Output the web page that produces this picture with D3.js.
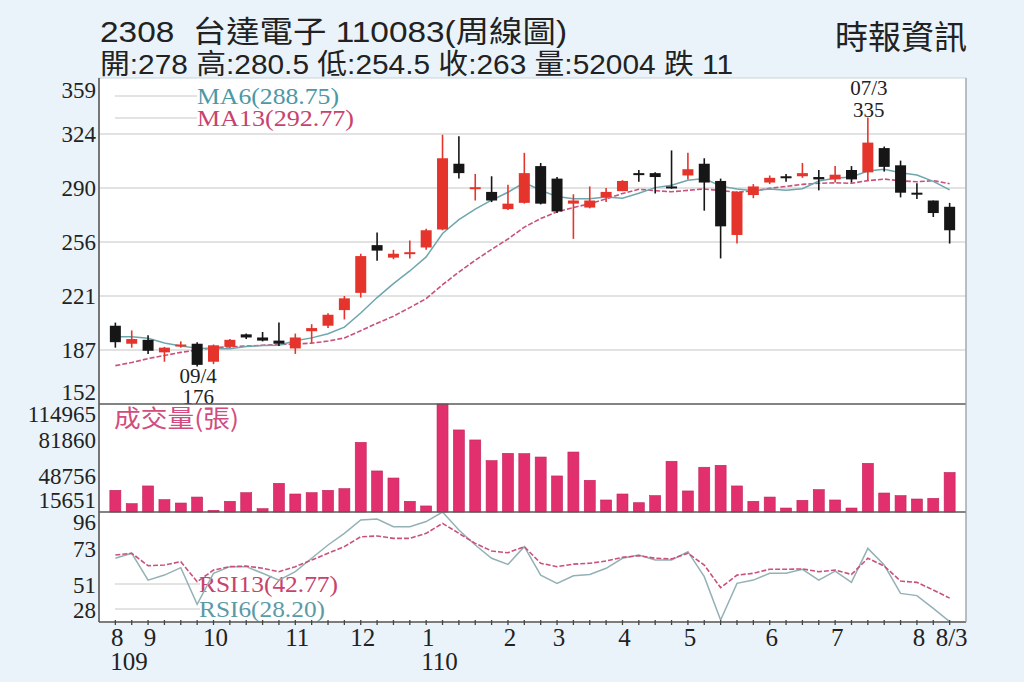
<!DOCTYPE html>
<html><head><meta charset="utf-8">
<script src="https://cdn.jsdelivr.net/npm/d3@7"></script>
<style>
html,body{margin:0;padding:0;background:#e9f3f9;}
svg{display:block;}
</style></head><body>
<svg id="c" width="1024" height="682"></svg>
<script>
// ---- data (weekly, 2020/08 .. 2021/08/03) ----
const openP  = [202,190.5,193,185,189,190.5,179,188.5,196.5,194.5, 192.5,187.5,198.5,202,212,223,253.5,245.5,248,252, 263.5,305.5,289.5,287.5,276.5,280.5,304,296,280,277.5, 284,288,299.5,299.5,291,298,305.5,294.5,260,285.5, 293.5,297.5,297.5,297,295.5,301.5,300,315.5,304.5,287, 282,278];
const highP  = [204,199,196,188.5,192,191.5,190,193.5,197,198, 204,197,203,210,221,248,261.5,250.5,256.5,264, 324,323,299,297.5,292,312.5,306,297,286,291, 290,295,301.5,300,314,312.5,309,296,288,292.5, 298,299,306,301.5,304,304,335,316.5,307.5,293, 282,280.5];
const lowP   = [188,188,184,179,188,176,177.5,188,193.5,192, 189,184,191,200.5,206,220,243.5,244.5,245,250.5, 263,296,282,281,276,280,279.5,274,257.5,277, 281,288,294,286.5,289.5,295.5,275.5,245,254.5,283.5, 292.5,294,296.5,288.5,293.5,293.5,295,300.5,284,283, 271.5,254.5];
const closeP = [191.5,193.5,186,188,190,177,189.5,193,194.5,192.5, 190.5,194.5,200.5,209,219.5,246.5,250,248,249,263, 309,299.5,290.5,282,280,299.5,280,275,282,282, 287.5,294.5,298.5,297,290.5,302,293.5,265.5,287.5,291, 296.5,297,299.5,295.5,298.5,295.5,319,303.5,287,286.5, 274,263];
const volume = [35600,23300,39600,27000,23900,29400,17200,25500,33400,18700, 42000,32200,33400,35600,37100,79700,53400,46900,25500,21200, 114965,91100,81900,62900,69600,69300,66200,48800,70800,44800, 26700,32200,24200,30700,62300,35000,56800,58600,39600,25500, 29400,19300,26400,36200,26700,19300,60400,33100,30700,27600, 28200,52004];
const ma6  = [195,195,194,191,189,187.7,187.3,187.25,188.7,189.4, 189.5,192.4,194.25,196.9,201.1,210.1,220,228.9,237,246, 260.9,269.75,276.5,282.2,287.3,293.4,288.6,284.5,283.1,283.1, 284.3,283.5,286.6,290.25,291.7,295,296,291.2,289.3,288.3, 289.3,288.5,289.5,294.5,296.3,297.1,300.8,301.9,299.8,298.3, 294.25,288.75];
const ma13 = [176.5,178.5,181,183,185,186.5,188,188.5,189,189.5, 190,190.3,190.85,192.2,194.2,198.85,203.6,208.1,213.6,219.3, 228.2,236.3,243.8,250.8,257.4,265,270.5,274.8,277.5,280, 283,286.5,289.2,288.3,287.6,288.5,289.4,288.3,287.3,288.2, 289.8,291,292.3,293,293.3,293,294.7,295.7,294.6,294, 294.7,292.77];
const rsi13 = [69.4,70.5,62.8,63.2,65.3,52.9,60.1,62.2,62.6,61.2, 59.1,62.2,66.3,70.5,74.6,80.7,81.2,79.7,79.7,82.8, 89,82.8,76.6,71.9,70.8,74.6,64.3,62.2,63.8,64.3, 65.7,68,69,67.4,67,70.5,63.2,49.2,57,58.1, 60.6,60.6,60.8,59.1,60.1,57.4,67.4,62.6,53.3,52.5, 47.8,42.77];
const rsi6  = [67.4,70.5,53.9,57,61.6,38.9,58.1,62.2,62.2,58.1, 53.9,59.1,67.4,75.6,82.8,91.1,91.7,86.9,86.9,90.1, 96,84.9,75.6,67.4,63.6,74.6,57,51.9,56.6,57.4, 61.2,67.4,69.4,66.3,66.3,71.5,56,29.2,51.9,53.9, 58.1,58.1,60.6,53.9,59.5,52.5,73.5,63.2,45.7,44.3, 36.4,28.2];

const priceTicks = [152,186.5,221,255.5,290,324.5,359];
const priceTickLabels = ["152","187","221","256","290","324","359"];
const volTicks = [15651,48756,81860,114965];
const volTickLabels = ["15651","48756","81860","114965"];
const rsiTicks = [28,50.67,73.33,96];
const rsiTickLabels = ["28","51","73","96"];
const monthIdx = [0,2,6,11,15,19,24,27,31,35,40,44,49,51];
const monthLabels = ["8","9","10","11","12","1","2","3","4","5","6","7","8","8/3"];
const yearIdx = [0,19];
const yearLabels = ["109","110"];

const titleLine1 = "2308  台達電子 110083(周線圖)";
const titleLine2 = "開:278 高:280.5 低:254.5 收:263 量:52004 跌 11";
const source = "時報資訊";

// ---- layout ----
const svg = d3.select("#c");
const L = 99, R = 966, T = 80, P_B = 404, V_B = 512, R_B = 622;
const idx = d3.range(closeP.length);
const x = d3.scaleLinear().domain([-1, 52]).range([L, R]);
const yP = d3.scaleLinear().domain([152, 359]).range([P_B, T]);
const yV = d3.scaleLinear().domain([15651, 114965]).range([V_B, P_B]);
const yR = d3.scaleLinear().domain([28, 96]).range([R_B, V_B]);

const serif = "'Liberation Serif','DejaVu Serif',serif";
const sans = "'Liberation Sans','Noto Sans CJK TC',sans-serif";
const cjk = "'Noto Sans CJK TC','Liberation Sans',sans-serif";

// plot background
svg.append("rect").attr("x", L).attr("y", T - 2).attr("width", R - L).attr("height", R_B - T + 2)
  .attr("fill", "#fff").attr("stroke", "#c9d3d9").attr("stroke-width", 1);

// header
svg.append("text").attr("x", 100).attr("y", 42).attr("font-family", sans).attr("font-size", 30)
  .attr("fill", "#222").style("white-space", "pre")
  .attr("textLength", 467).attr("lengthAdjust", "spacingAndGlyphs").text(titleLine1);
svg.append("text").attr("x", 100).attr("y", 74).attr("font-family", sans).attr("font-size", 28)
  .attr("fill", "#222").attr("textLength", 633).attr("lengthAdjust", "spacingAndGlyphs").text(titleLine2);
svg.append("text").attr("x", 835).attr("y", 49).attr("font-family", cjk).attr("font-size", 33)
  .attr("fill", "#222").text(source);

// price gridlines
svg.append("g").selectAll("line").data(priceTicks.slice(1, -1)).join("line")
  .attr("x1", L).attr("x2", R).attr("y1", d => yP(d)).attr("y2", d => yP(d))
  .attr("stroke", "#d9d9d9").attr("stroke-width", 1.5);

// axes (left)
function leftAxis(scale, ticks, labels, fs) {
  const g = svg.append("g").attr("transform", `translate(${L},0)`)
    .call(d3.axisLeft(scale).tickValues(ticks).tickFormat((d, i) => labels[i]).tickSize(0).tickPadding(3));
  g.select(".domain").remove();
  g.selectAll("text").attr("font-family", serif).attr("font-size", fs).attr("fill", "#222")
    .attr("dy", (d, i) => i === 0 ? "-5" : (i === ticks.length - 1 ? "17" : "0.33em"));
  return g;
}
leftAxis(yP, priceTicks, priceTickLabels, 23);
leftAxis(yV, volTicks, volTickLabels, 23);
leftAxis(yR, rsiTicks, rsiTickLabels, 23);

// MA lines
const lineP = arr => d3.line().x(i => x(i)).y(i => yP(arr[i]))(idx);
svg.append("path").attr("d", lineP(ma13)).attr("fill", "none").attr("stroke", "#c9517c")
  .attr("stroke-width", 1.6).attr("stroke-dasharray", "5,2");
svg.append("path").attr("d", lineP(ma6)).attr("fill", "none").attr("stroke", "#6ea6ae")
  .attr("stroke-width", 1.5);

// candles
const bw = 11;
const up = i => closeP[i] >= openP[i];
const cCol = i => up(i) ? "#e5342b" : "#161616";
const cg = svg.append("g");
cg.selectAll("line").data(idx).join("line")
  .attr("x1", i => x(i)).attr("x2", i => x(i))
  .attr("y1", i => yP(highP[i])).attr("y2", i => yP(lowP[i]))
  .attr("stroke", cCol).attr("stroke-width", 1.6);
cg.selectAll("rect").data(idx).join("rect")
  .attr("x", i => x(i) - bw / 2).attr("width", bw)
  .attr("y", i => yP(Math.max(openP[i], closeP[i])))
  .attr("height", i => Math.max(2, Math.abs(yP(openP[i]) - yP(closeP[i]))))
  .attr("fill", cCol);

// legend MA
[[96, "MA6(288.75)", "#4b98a6"], [118, "MA13(292.77)", "#c8426e"]].forEach(([yy, t, c]) => {
  svg.append("line").attr("x1", 115).attr("x2", 197).attr("y1", yy).attr("y2", yy)
    .attr("stroke", "#c8c8c8").attr("stroke-width", 1.2);
  svg.append("text").attr("x", 197).attr("y", yy + 8).attr("font-family", serif).attr("font-size", 23)
    .attr("fill", c).attr("textLength", t.length > 11 ? 157 : 142).attr("lengthAdjust", "spacingAndGlyphs").text(t);
});

// annotations
function note(i, lines, ys) {
  lines.forEach((t, k) => svg.append("text").attr("x", x(i) + 1).attr("y", ys[k]).attr("text-anchor", "middle")
    .attr("font-family", serif).attr("font-size", 21).attr("fill", "#222").text(t));
}
note(5, ["09/4", "176"], [383, 404]);
note(46, ["07/3", "335"], [95, 117]);

// volume bars
svg.append("g").selectAll("rect").data(idx).join("rect")
  .attr("x", i => x(i) - bw / 2).attr("width", bw)
  .attr("y", i => yV(volume[i])).attr("height", i => V_B - yV(volume[i]))
  .attr("fill", "#e2306f").attr("stroke", "#bf2359").attr("stroke-width", 0.6);
svg.append("text").attr("x", 114).attr("y", 427).attr("font-family", cjk).attr("font-size", 24)
  .attr("fill", "#d24c80").attr("textLength", 125).attr("lengthAdjust", "spacingAndGlyphs").text("成交量(張)");

// RSI lines
const lineR = arr => d3.line().x(i => x(i)).y(i => yR(arr[i]))(idx);
[[584, "RSI13(42.77)", "#c8426e", 139], [609, "RSI6(28.20)", "#5b9aa6", 126]].forEach(([yy, t, c, w]) => {
  svg.append("line").attr("x1", 115).attr("x2", 200).attr("y1", yy).attr("y2", yy)
    .attr("stroke", "#c8c8c8").attr("stroke-width", 1.2);
  svg.append("text").attr("x", 199).attr("y", yy + 8).attr("font-family", serif).attr("font-size", 23)
    .attr("fill", c).attr("textLength", w).attr("lengthAdjust", "spacingAndGlyphs").text(t);
});
svg.append("path").attr("d", lineR(rsi6)).attr("fill", "none").attr("stroke", "#93b1b6").attr("stroke-width", 1.5);
svg.append("path").attr("d", lineR(rsi13)).attr("fill", "none").attr("stroke", "#c9517c")
  .attr("stroke-width", 1.6).attr("stroke-dasharray", "5,2");

// panel frame lines
const frame = svg.append("g").attr("stroke", "#5a5a5a").attr("stroke-width", 1.6);
[P_B, V_B, R_B].forEach(yy => frame.append("line").attr("x1", L).attr("x2", R).attr("y1", yy).attr("y2", yy));
frame.append("line").attr("x1", L).attr("x2", L).attr("y1", T - 2).attr("y2", R_B);
frame.append("line").attr("x1", R).attr("x2", R).attr("y1", T - 2).attr("y2", R_B).attr("stroke", "#9aa3a8").attr("stroke-width", 1.2);

// x ticks
svg.append("g").selectAll("line").data(idx).join("line")
  .attr("x1", i => x(i)).attr("x2", i => x(i)).attr("y1", R_B - 2).attr("y2", R_B + 3)
  .attr("stroke", "#444").attr("stroke-width", 1.3);
svg.append("g").selectAll("text").data(monthIdx).join("text")
  .attr("x", i => x(i) + 2).attr("y", 646).attr("text-anchor", "middle")
  .attr("font-family", serif).attr("font-size", 25).attr("fill", "#222")
  .text((d, k) => monthLabels[k]);
svg.append("g").selectAll("text").data(yearIdx).join("text")
  .attr("x", i => x(i) - 5).attr("y", 670)
  .attr("font-family", serif).attr("font-size", 25).attr("fill", "#222")
  .text((d, k) => yearLabels[k]);
</script>
</body></html>
